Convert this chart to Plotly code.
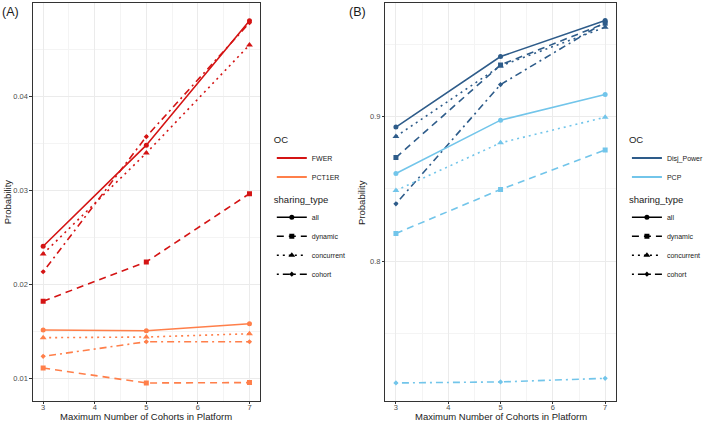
import plotly.graph_objects as go

cohorts = [3, 5, 7]
sharing_types = ["all", "dynamic", "concurrent", "cohort"]

# panel A: type I error probabilities
fwer = {
    "all": [0.02406, 0.0348, 0.0480],
    "dynamic": [0.01823, 0.0224, 0.02965],
    "concurrent": [0.02325, 0.03396, 0.04544],
    "cohort": [0.02135, 0.0357, 0.0478],
}
pct1er = {
    "all": [0.01516, 0.01509, 0.01583],
    "dynamic": [0.01113, 0.00954, 0.00958],
    "concurrent": [0.01435, 0.01442, 0.01477],
    "cohort": [0.01237, 0.01392, 0.01392],
}

# panel B: power
disj_power = {
    "all": [0.8927, 0.9415, 0.9664],
    "dynamic": [0.8716, 0.9357, 0.9645],
    "concurrent": [0.8862, 0.9350, 0.9618],
    "cohort": [0.8396, 0.9221, 0.9654],
}
pcp = {
    "all": [0.8606, 0.8975, 0.9152],
    "dynamic": [0.8191, 0.8495, 0.8769],
    "concurrent": [0.8488, 0.8818, 0.8995],
    "cohort": [0.7156, 0.7163, 0.7188],
}

# ggplot-like linetypes
dashes = {"all": "solid", "dynamic": "7px,5px", "concurrent": "2px,4px", "cohort": "2px,4px,7px,4px"}
symbols = {"all": "circle", "dynamic": "square", "concurrent": "triangle-up", "cohort": "diamond"}
sizes = {"all": 5, "dynamic": 5, "concurrent": 6, "cohort": 4}

panels = [
    ("x", "y", [("FWER", fwer, "#D41414"), ("PCT1ER", pct1er, "#FF7F4A")], "legend", "legend2"),
    ("x2", "y2", [("Disj_Power", disj_power, "#2E5C8A"), ("PCP", pcp, "#72C5EA")], "legend3", "legend4"),
]

fig = go.Figure()
for xa, ya, series, leg_oc, leg_sh in panels:
    for name, data, color in series:
        for st in sharing_types:
            fig.add_trace(go.Scatter(
                x=cohorts, y=data[st], xaxis=xa, yaxis=ya, mode="lines+markers",
                line=dict(color=color, width=1.6, dash=dashes[st]),
                marker=dict(symbol=symbols[st], size=sizes[st], color=color),
                showlegend=False,
            ))
    # legend-only entries
    for name, data, color in series:
        fig.add_trace(go.Scatter(
            x=[None], y=[None], xaxis=xa, yaxis=ya, mode="lines", name=name,
            line=dict(color=color, width=2), legend=leg_oc,
        ))
    for st in sharing_types:
        fig.add_trace(go.Scatter(
            x=[None], y=[None], xaxis=xa, yaxis=ya, mode="lines+markers", name=st,
            line=dict(color="black", width=1.6, dash=dashes[st]),
            marker=dict(symbol=symbols[st], size=sizes[st], color="black"),
            legend=leg_sh,
        ))

font = "Liberation Sans, Arial, sans-serif"
grid = "#EBEBEB"
title_font = dict(size=9.5, color="#1A1A1A")


def xaxis(domain, anchor):
    return dict(
        domain=domain, anchor=anchor, range=[2.8, 7.2], tickvals=[3, 4, 5, 6, 7],
        showgrid=True, gridcolor=grid, gridwidth=1,
        minor=dict(dtick=0.5, tick0=3, showgrid=True, gridcolor="#F4F4F4", gridwidth=0.6),
        ticks="outside", ticklen=2.5, tickcolor="#333333", tickfont=dict(size=7.5, color="#4D4D4D"),
        ticklabelstandoff=-3,
        showline=True, linecolor="#333333", linewidth=1, mirror=True, zeroline=False,
        automargin=False,
    )


def yaxis(domain, anchor, rng, tickvals, ticktext, minor0, dtick):
    return dict(
        domain=domain, anchor=anchor, range=rng, tickvals=tickvals, ticktext=ticktext,
        showgrid=True, gridcolor=grid, gridwidth=1,
        minor=dict(tick0=minor0, dtick=dtick, showgrid=True, gridcolor="#F4F4F4", gridwidth=0.6),
        ticks="outside", ticklen=2.5, tickcolor="#333333", tickfont=dict(size=7.5, color="#4D4D4D"),
        showline=True, linecolor="#333333", linewidth=1, mirror=True, zeroline=False,
        automargin=False,
    )


def legend(x, y, title):
    return dict(
        x=x, y=y, xanchor="left", yanchor="top", xref="paper", yref="paper",
        title=dict(text=title, font=title_font),
        font=dict(size=7, color="#1A1A1A"), itemwidth=30, bgcolor="rgba(0,0,0,0)",
        tracegroupgap=0, itemclick=False, itemdoubleclick=False,
    )


def label(text, x, y, size=9.5, angle=0, anchor="center"):
    return dict(text=text, x=x, y=y, xref="paper", yref="paper", xanchor=anchor,
                yanchor="middle", showarrow=False, textangle=angle,
                font=dict(size=size, color="#1A1A1A"))


fig.update_layout(
    width=709, height=423, margin=dict(l=0, r=0, t=0, b=0),
    paper_bgcolor="white", plot_bgcolor="white",
    font=dict(family=font),
    xaxis=xaxis([0.0465, 0.368], "y"),
    yaxis=yaxis([0.053, 0.993], "x", [0.00767, 0.0499], [0.01, 0.02, 0.03, 0.04],
                ["0.01", "0.02", "0.03", "0.04"], 0.005, 0.01),
    xaxis2=xaxis([0.546, 0.872], "y2"),
    yaxis2=yaxis([0.053, 0.993], "x2", [0.7034, 0.9786], [0.8, 0.9], ["0.8", "0.9"], 0.75, 0.1),
    legend=legend(0.385, 0.69, "OC"),
    legend2=legend(0.385, 0.55, "sharing_type"),
    legend3=legend(0.888, 0.69, "OC"),
    legend4=legend(0.888, 0.55, "sharing_type"),
    annotations=[
        label("(A)", 0.0, 0.972, size=12.5, anchor="left"),
        label("(B)", 0.492, 0.972, size=12.5, anchor="left"),
        label("Maximum Number of Cohorts in Platform", 0.207, 0.015),
        label("Maximum Number of Cohorts in Platform", 0.709, 0.015),
        label("Probability", 0.010, 0.522, angle=-90),
        label("Probability", 0.511, 0.522, angle=-90),
    ],
)

# the page body has an 8px default margin; drop it so the figure fills the window
fig.write_html("out.html", post_script="document.body.style.margin='0';",
               config={"displayModeBar": False})
